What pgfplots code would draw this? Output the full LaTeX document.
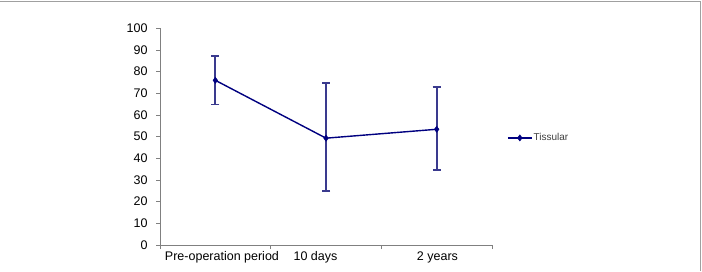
\documentclass[border=0pt]{standalone}
\usepackage{fontspec}
\setmainfont{Liberation Sans}
\usepackage{pgfplots}
\usepackage{pgfplotstable}
\pgfplotsset{compat=1.18}

\definecolor{seriesblue}{RGB}{0,0,128}
\definecolor{errblue}{RGB}{58,58,142}
\definecolor{axisgray}{RGB}{128,128,128}
\definecolor{framegray}{RGB}{160,160,160}

% period, mean, upper and lower error
\pgfplotstableread{
x   y     ep    em
1   76.0  11.2  11.1
2   49.3  25.5  24.5
3   53.4  19.6  18.8
}\tissular

\begin{document}
\begin{tikzpicture}[x=1pt,y=1pt]
\useasboundingbox (0,0) rectangle (702,271);
\fill[white] (0,0) rectangle (702,271);
\draw[framegray, line width=1.5pt] (0,269.5) -- (700.5,269.5) -- (700.5,0);
\begin{axis}[
  at={(160pt,26pt)}, anchor=south west,
  scale only axis,
  width=332pt, height=216.7pt,
  xmin=0.5, xmax=3.5,
  ymin=0, ymax=100,
  axis x line*=bottom, axis y line*=left,
  axis line style={axisgray, line width=0.8pt, -},
  ytick={0,10,...,100},
  xtick={0.5,1.5,2.5,3.5},
  xticklabels={},
  extra x ticks={1.06,1.905,3.007},
  extra x tick labels={Pre-operation period,10 days,2 years},
  extra x tick style={major tick length=0pt,
    xticklabel style={yshift=-3pt}},
  tick align=outside,
  major tick length=4pt,
  tick style={axisgray, line width=0.8pt},
  ticklabel style={font=\fontsize{12.5}{14}\selectfont, text=black},
  yticklabel style={xshift=-5pt},
  /pgf/number format/assume math mode=true,
  legend style={at={(axis description cs:1.045,0.494)}, anchor=west,
    draw=none, fill=none, inner sep=0pt,
    font=\fontsize{10}{12}\selectfont, text=black!75,
    nodes={inner sep=1pt}},
  legend image code/.code={%
    \draw[mark repeat=2,mark phase=2,#1]
      plot coordinates {(0pt,0pt) (12pt,0pt) (24pt,0pt)};},
  clip=false,
]
\addplot[
  seriesblue, line width=1.4pt,
  mark=diamond*, mark size=3pt,
  mark options={fill=seriesblue, line width=0.6pt},
  error bars/.cd,
    y dir=both, y explicit,
    error bar style={errblue, line width=1.8pt},
    error mark options={rotate=90, mark size=4pt, errblue, line width=1.6pt},
] table[x=x, y=y, y error plus=ep, y error minus=em] {\tissular};
\addlegendentry{Tissular}
\end{axis}
\end{tikzpicture}
\end{document}
